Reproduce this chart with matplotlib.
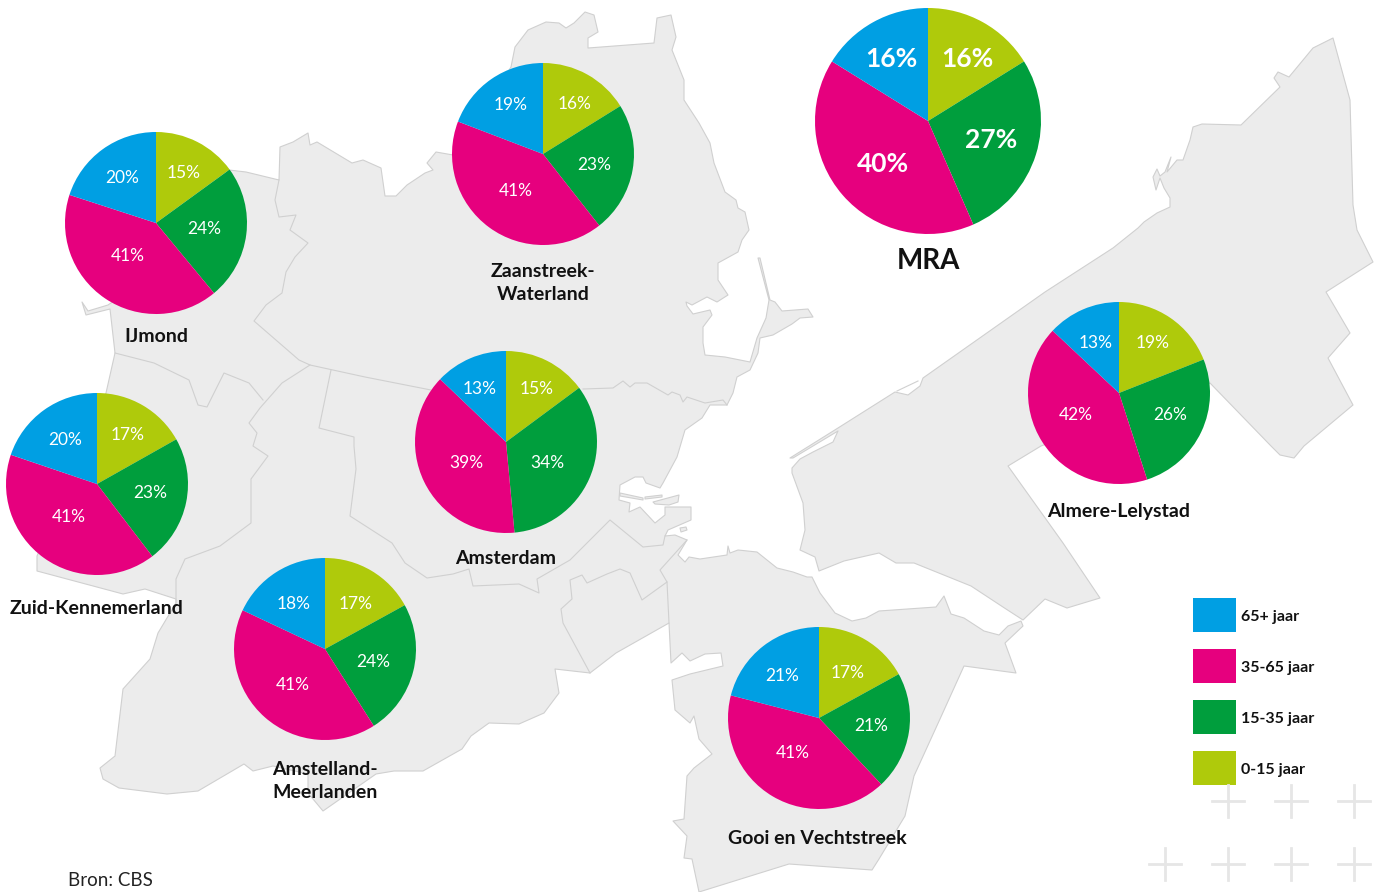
import matplotlib

matplotlib.use("Agg")
import matplotlib.pyplot as plt
from matplotlib.patches import Polygon, Rectangle

WIDTH = 1378
HEIGHT = 892

AGE_GROUPS = ["0-15 jaar", "15-35 jaar", "35-65 jaar", "65+ jaar"]
AGE_COLORS = ["#AFCA0B", "#009E3D", "#E6007E", "#009FE3"]

REGIONS = [
    "MRA",
    "Zaanstreek-\nWaterland",
    "IJmond",
    "Zuid-Kennemerland",
    "Amsterdam",
    "Amstelland-\nMeerlanden",
    "Gooi en Vechtstreek",
    "Almere-Lelystad",
]
mra = [16, 27, 40, 16]
zaanstreek = [16, 23, 41, 19]
ijmond = [15, 24, 41, 20]
kennemerland = [17, 23, 41, 20]
amsterdam = [15, 34, 39, 13]
amstelland = [17, 24, 41, 18]
gooi = [17, 21, 41, 21]
almere = [19, 26, 42, 13]
REGION_VALUES = [
    mra, zaanstreek, ijmond, kennemerland, amsterdam, amstelland, gooi, almere,
]

# pie placement in image pixels: centre x, centre y, radius
PIE_LAYOUT = [
    (928, 121, 113),
    (543, 154, 91),
    (156, 223, 91),
    (97, 484, 91),
    (506, 442, 91),
    (325, 649, 91),
    (819, 718, 91),
    (1119, 393, 91),
]
# name label centre in image pixels
NAME_LAYOUT = [
    (928, 261),
    (543, 283),
    (156, 337),
    (97, 608),
    (506, 559),
    (325, 781),
    (817, 839),
    (1119, 512),
]
# percent label centres in image pixels, same order as the values
PCT_LAYOUT = [
    [(967, 59), (991, 140), (883, 164), (891, 59)],
    [(575, 104), (594, 165), (516, 191), (511, 105)],
    [(184, 173), (204, 229), (128, 256), (122, 178)],
    [(128, 435), (150, 493), (69, 517), (65, 440)],
    [(537, 389), (547, 463), (466, 463), (480, 389)],
    [(356, 604), (373, 662), (293, 685), (294, 604)],
    [(848, 673), (871, 726), (793, 753), (782, 676)],
    [(1153, 343), (1170, 415), (1076, 415), (1096, 343)],
]

# background map, image pixels
LAND_WEST = [
    (511, 67), (515, 47), (528, 30), (546, 22), (559, 23), (566, 28), (574, 23),
    (585, 12), (594, 15), (598, 32), (588, 38), (588, 48), (654, 43), (657, 18),
    (671, 15), (676, 37), (672, 50), (684, 80), (684, 100), (699, 123),
    (710, 143), (714, 163), (725, 192), (736, 200), (738, 208), (745, 212),
    (749, 230), (742, 240), (738, 252), (718, 263), (718, 280), (728, 295),
    (717, 302), (707, 297), (692, 305), (686, 302), (687, 306), (693, 314),
    (710, 310), (712, 315), (703, 327), (703, 343), (705, 355), (725, 357),
    (750, 362), (757, 338), (766, 318), (769, 300), (758, 258), (760, 258),
    (770, 300), (775, 302), (782, 311), (808, 309), (813, 317), (800, 318),
    (792, 324), (773, 335), (760, 338), (758, 353), (750, 370), (737, 377),
    (733, 393), (727, 405), (710, 405), (702, 418), (685, 430), (677, 457),
    (663, 483), (660, 488), (646, 483), (643, 477), (635, 477), (620, 485),
    (619, 500), (630, 503), (629, 512), (640, 507), (655, 523), (665, 515),
    (665, 507), (691, 507), (691, 520), (668, 530), (665, 536), (675, 535),
    (687, 540), (678, 555), (685, 562), (689, 557), (700, 559), (727, 555),
    (728, 546), (730, 553), (738, 550), (757, 552), (777, 568), (793, 572),
    (807, 577), (812, 577), (820, 593),
    (835, 613), (852, 621), (866, 618), (879, 611), (936, 607), (944, 596),
    (951, 614), (964, 618), (984, 631), (999, 635), (1008, 626), (1021, 621),
    (1023, 626), (1005, 643), (1016, 673), (964, 666), (940, 719), (914, 776),
    (905, 816), (879, 859), (872, 870), (789, 864), (699, 892), (692, 859),
    (684, 858), (687, 836), (673, 821), (684, 819), (687, 776), (694, 768),
    (712, 754), (699, 739), (694, 716), (690, 723), (675, 710), (672, 680),
    (690, 674), (723, 666), (721, 653), (705, 654), (690, 661), (682, 653),
    (671, 663), (669, 623), (616, 653), (590, 673), (555, 669), (559, 693),
    (544, 713), (519, 724), (489, 723), (471, 736), (462, 749), (423, 771),
    (394, 771), (376, 774), (323, 811), (308, 793), (308, 774), (273, 766),
    (253, 771), (244, 764), (198, 791), (167, 794), (119, 788), (103, 779),
    (100, 768), (115, 756), (123, 689), (150, 659), (158, 633), (176, 603),
    (176, 599), (145, 589), (123, 594), (37, 571), (37, 556), (106, 393),
    (115, 353), (110, 309), (86, 315), (82, 302), (88, 311), (108, 305),
    (130, 290), (229, 170), (246, 172), (279, 180), (280, 147), (293, 142),
    (308, 133), (310, 145), (317, 142), (352, 163), (363, 160), (381, 168),
    (385, 196), (396, 196), (407, 185), (425, 173), (433, 170), (427, 163),
    (436, 152), (453, 155),
]
LAND_EAST = [
    (790, 458), (838, 428), (895, 392), (908, 395), (920, 386), (923, 378),
    (1045, 292), (1113, 248), (1138, 228), (1144, 222), (1157, 213), (1170, 207),
    (1170, 198), (1164, 188), (1160, 178), (1156, 190), (1153, 177), (1157, 169),
    (1160, 176), (1165, 172), (1171, 157), (1167, 172), (1177, 160), (1183, 160),
    (1190, 140), (1193, 127), (1202, 124), (1241, 125), (1280, 87), (1274, 78),
    (1278, 72), (1289, 77), (1313, 48), (1333, 38), (1350, 100), (1353, 205),
    (1357, 230), (1373, 262), (1326, 292), (1350, 333), (1328, 358), (1353, 405),
    (1304, 446), (1294, 458), (1280, 455), (1271, 446), (1210, 383), (1041, 446),
    (1008, 466), (1063, 543), (1100, 598), (1067, 608), (1045, 599), (1023, 620),
    (1006, 609), (971, 586), (914, 563), (896, 563), (879, 553), (844, 561),
    (819, 571), (815, 557), (800, 550), (805, 530), (803, 503), (792, 473),
    (792, 468), (800, 459), (813, 452), (833, 442), (838, 431), (793, 458),
]
PIERS = [
    [(620, 493), (643, 498), (643, 500), (620, 496)],
    [(645, 497), (662, 495), (662, 497), (645, 499)],
    [(653, 502), (679, 495), (678, 502), (669, 505), (655, 504)],
    [(680, 528), (686, 527), (687, 530), (681, 532)],
]
BORDERS = [
    [(279, 180), (275, 200), (279, 217), (296, 215), (290, 230), (308, 243),
     (295, 257), (286, 272), (282, 293), (266, 305), (254, 321), (299, 360),
     (310, 365), (365, 377), (431, 390)],
    [(115, 353), (154, 363), (189, 380), (198, 405), (207, 407), (224, 373),
     (249, 383), (263, 400)],
    [(310, 365), (282, 383), (260, 408), (249, 423), (257, 433), (253, 446),
     (268, 456), (251, 479), (251, 523), (220, 546), (185, 559), (176, 579),
     (176, 603)],
    [(331, 370), (319, 428), (354, 437), (354, 446), (356, 469), (350, 516),
     (392, 543), (405, 563), (427, 578), (453, 574), (469, 569), (473, 586),
     (519, 584), (539, 593), (537, 579), (570, 560), (610, 520), (643, 547),
     (663, 545), (665, 536)],
    [(687, 540), (660, 570), (667, 582), (669, 623)],
    [(667, 582), (642, 600), (630, 573), (620, 569), (607, 574), (587, 583),
     (582, 575), (570, 580), (572, 599), (561, 609), (563, 623), (590, 673)],
    [(583, 389), (613, 388), (623, 381), (630, 387), (635, 383), (647, 383),
     (668, 395), (672, 392), (680, 395), (683, 402), (687, 397), (705, 403),
     (723, 400), (727, 405)],
    [(897, 391), (918, 381)],
]

CROSS_X = [1165, 1228, 1291, 1354]
CROSS_Y = [801, 864]

LEGEND_ORDER = [3, 2, 1, 0]
LEGEND_Y = [598, 649, 700, 751]

plt.rcParams["font.family"] = ["Lato", "DejaVu Sans"]

fig = plt.figure(figsize=(WIDTH / 100, HEIGHT / 100), dpi=100)
ax = fig.add_axes([0, 0, 1, 1])
ax.set_xlim(0, WIDTH)
ax.set_ylim(HEIGHT, 0)
ax.axis("off")

for land in [LAND_WEST, LAND_EAST] + PIERS:
    ax.add_patch(
        Polygon(land, closed=True, fc="#ECECEC", ec="#D0D0D0", lw=0.8, joinstyle="round"),
    )
for border in BORDERS:
    xs, ys = zip(*border)
    ax.plot(xs, ys, color="#D0D0D0", lw=0.8)

# crosses bottom right
for row, y in enumerate(CROSS_Y):
    for col, x in enumerate(CROSS_X):
        if row == 0 and col == 0:
            continue
        ax.plot([x - 16, x + 16], [y, y], color="#E6E6E6", lw=2)
        ax.plot([x, x], [y - 16, y + 16], color="#E6E6E6", lw=2)

# legend
for idx, y in zip(LEGEND_ORDER, LEGEND_Y):
    ax.add_patch(Rectangle((1193, y), 43, 34, fc=AGE_COLORS[idx], ec="none"))
    ax.text(
        1241, y + 19, AGE_GROUPS[idx], fontsize=11.5, fontweight="bold",
        va="center", ha="left", color="#111111",
    )

for name, (x, y) in zip(REGIONS, NAME_LAYOUT):
    ax.text(
        x, y, name, ha="center", va="center", color="#111111",
        fontsize=20 if name == "MRA" else 14, fontweight="bold",
        linespacing=1.38,
    )

ax.text(68, 880, "Bron: CBS", fontsize=13.5, va="center", ha="left", color="#222222")

for values, (cx, cy, r), spots in zip(REGION_VALUES, PIE_LAYOUT, PCT_LAYOUT):
    pie_ax = fig.add_axes(
        [(cx - r) / WIDTH, 1 - (cy + r) / HEIGHT, 2 * r / WIDTH, 2 * r / HEIGHT],
    )
    pie_ax.pie(
        values,
        colors=AGE_COLORS,
        startangle=90,
        counterclock=False,
        radius=1,
        wedgeprops={"linewidth": 0},
    )
    pie_ax.set_xlim(-1, 1)
    pie_ax.set_ylim(-1, 1)
    big = r > 100
    for value, (px, py) in zip(values, spots):
        pie_ax.text(
            (px - cx) / r,
            (cy - py) / r,
            f"{value}%",
            color="white",
            ha="center",
            va="center",
            fontsize=19 if big else 12.5,
            fontweight="bold" if big else "normal",
        )

fig.savefig("out.png", dpi=100)
